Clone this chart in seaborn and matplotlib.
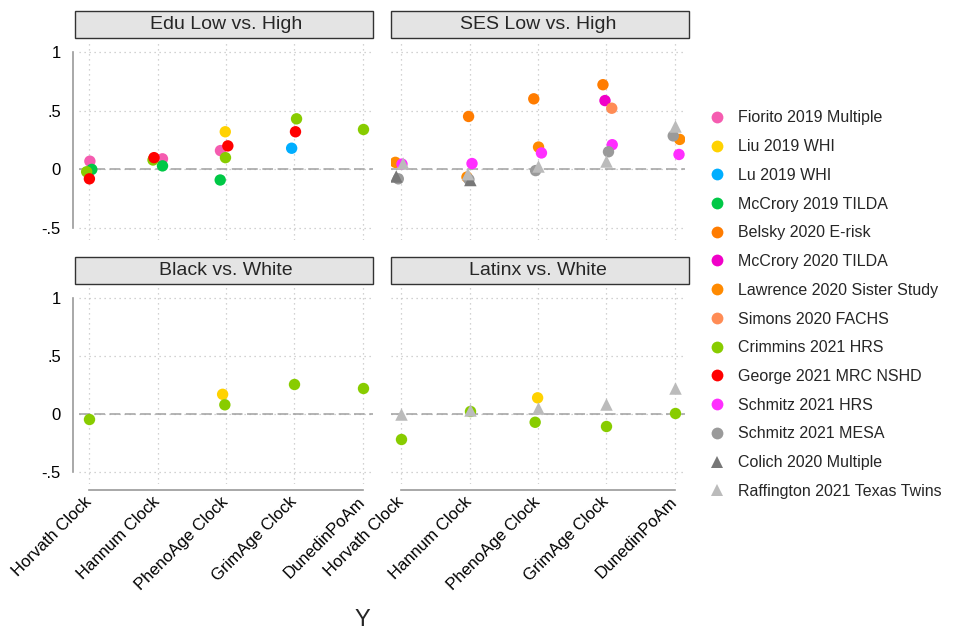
import numpy as np
import pandas as pd
import matplotlib
matplotlib.use("Agg")
import matplotlib.pyplot as plt
from matplotlib.patches import Rectangle
from matplotlib.lines import Line2D
import seaborn as sns

# clocks on the x axis
clocks = ["Horvath Clock", "Hannum Clock", "PhenoAge Clock", "GrimAge Clock", "DunedinPoAm"]

studies = [
    "Fiorito 2019 Multiple", "Liu 2019 WHI", "Lu 2019 WHI", "McCrory 2019 TILDA",
    "Belsky 2020 E-risk", "McCrory 2020 TILDA", "Lawrence 2020 Sister Study",
    "Simons 2020 FACHS", "Crimmins 2021 HRS", "George 2021 MRC NSHD",
    "Schmitz 2021 HRS", "Schmitz 2021 MESA", "Colich 2020 Multiple",
    "Raffington 2021 Texas Twins",
]
triangle_studies = ["Colich 2020 Multiple", "Raffington 2021 Texas Twins"]

study_colors = [
    "#F55CB0", "#FFD200", "#00AEFF", "#00C846", "#FF7C00", "#F000C8", "#FF8A00",
    "#FF8C55", "#88CC00", "#FF0000", "#FF2EFF", "#9A9A9A", "#777777", "#BBBBBB",
]

panels = ["Edu Low vs. High", "SES Low vs. High", "Black vs. White", "Latinx vs. White"]

# effect per clock (Horvath, Hannum, PhenoAge, GrimAge, DunedinPoAm); None = not reported
edu_vals = {
    "Fiorito 2019 Multiple": [0.07, 0.09, 0.16, None, None],
    "Liu 2019 WHI": [None, None, 0.32, None, None],
    "Lu 2019 WHI": [None, None, None, 0.18, None],
    "McCrory 2019 TILDA": [0.00, 0.03, -0.09, None, None],
    "Crimmins 2021 HRS": [-0.02, 0.08, 0.10, 0.43, 0.34],
    "George 2021 MRC NSHD": [-0.08, 0.10, 0.20, 0.32, None],
}
ses_vals = {
    "Belsky 2020 E-risk": [None, 0.45, 0.60, 0.72, None],
    "McCrory 2020 TILDA": [None, None, None, 0.585, None],
    "Lawrence 2020 Sister Study": [0.06, -0.065, 0.19, None, 0.255],
    "Simons 2020 FACHS": [None, None, None, 0.52, None],
    "Schmitz 2021 HRS": [0.045, 0.05, 0.14, 0.21, 0.127],
    "Schmitz 2021 MESA": [-0.08, -0.085, -0.01, 0.15, 0.285],
    "Colich 2020 Multiple": [-0.06, -0.09, None, None, None],
    "Raffington 2021 Texas Twins": [0.05, -0.04, 0.03, 0.07, 0.37],
}
black_vals = {
    "Liu 2019 WHI": [None, None, 0.17, None, None],
    "Crimmins 2021 HRS": [-0.04, None, 0.08, 0.26, 0.22],
}
latinx_vals = {
    "Liu 2019 WHI": [None, None, 0.14, None, None],
    "Crimmins 2021 HRS": [-0.21, 0.03, -0.07, -0.10, 0.01],
    "Raffington 2021 Texas Twins": [0.00, 0.035, 0.055, 0.085, 0.22],
}


def build_frame():
    rows = []
    for panel, vals in zip(panels, [edu_vals, ses_vals, black_vals, latinx_vals]):
        for study, effects in vals.items():
            for clock, v in zip(clocks, effects):
                if v is not None:
                    rows.append({"panel": panel, "study": study, "clock": clock, "effect": v})
    return pd.DataFrame(rows)


df = build_frame()
palette = dict(zip(studies, study_colors))

sns.set_style("white")
plt.rcParams["font.family"] = ["Liberation Sans", "DejaVu Sans"]

fig = plt.figure(figsize=(9.73, 6.32), dpi=100)
W, H = 973, 632


def px_axes(left, top, width, height):
    return fig.add_axes([left / W, 1 - (top + height) / H, width / W, height / H])


axes = [
    px_axes(79, 40, 294, 200),
    px_axes(391, 40, 294, 200),
    px_axes(79, 286, 294, 198),
    px_axes(391, 286, 294, 198),
]

np.random.seed(3)
for i, (ax, panel) in enumerate(zip(axes, panels)):
    sub = df[df["panel"] == panel]
    circ = sub[~sub["study"].isin(triangle_studies)]
    tri = sub[sub["study"].isin(triangle_studies)]
    if len(circ):
        sns.stripplot(data=circ, x="clock", y="effect", hue="study", order=clocks,
                      hue_order=studies, palette=palette, jitter=0.09, size=8.2,
                      linewidth=0, legend=False, ax=ax, zorder=4)
    if len(tri):
        sns.stripplot(data=tri, x="clock", y="effect", hue="study", order=clocks,
                      hue_order=studies, palette=palette, jitter=0.09, size=9,
                      marker="^", linewidth=0, legend=False, ax=ax, zorder=4)

    ax.set_xlim(-0.15, 4.15)
    ax.set_ylim(-0.6, 1.1)
    ax.set_yticks([-0.5, 0, 0.5, 1])
    ax.set_yticklabels(["-.5", "0", ".5", "1"])
    ax.set_xlabel("")
    ax.set_ylabel("")

    ax.grid(True, linestyle=(0, (1, 3)), color="#c4c4c4", linewidth=0.9)
    ax.axhline(0, color="#a0a0a0", linestyle=(0, (7, 3)), linewidth=1.1, zorder=2)

    for s in ["top", "right"]:
        ax.spines[s].set_visible(False)
    ax.spines["left"].set_position(("outward", 4))
    ax.spines["left"].set_bounds(-0.5, 1)
    ax.spines["bottom"].set_position(("outward", 4))
    ax.spines["bottom"].set_bounds(0, 4)
    for s in ["left", "bottom"]:
        ax.spines[s].set_color("#9a9a9a")
        ax.spines[s].set_linewidth(1.2)
    ax.tick_params(axis="both", colors="#9a9a9a", labelcolor="black", length=6,
                   width=1.2, labelsize=12, pad=3)

    if i % 2 == 1:
        ax.spines["left"].set_visible(False)
        ax.tick_params(axis="y", length=0, labelleft=False)
    if i < 2:
        ax.spines["bottom"].set_visible(False)
        ax.tick_params(axis="x", length=0, labelbottom=False)
    else:
        plt.setp(ax.get_xticklabels(), rotation=45, ha="right", va="center",
                 rotation_mode="anchor")
        ax.tick_params(axis="x", pad=1)

    # panel header strip
    x0 = -0.012 if i % 2 == 0 else 0.0
    ax.add_patch(Rectangle((x0, 1.01), 1.012, 0.135, transform=ax.transAxes,
                           facecolor="#e4e4e4", edgecolor="#333333", linewidth=1.0,
                           clip_on=False, zorder=5))
    ax.text(0.5, 1.01 + 0.0675, panel, transform=ax.transAxes, ha="center",
            va="center", fontsize=14, zorder=6)

handles = []
for study, color in zip(studies, study_colors):
    marker = "^" if study in triangle_studies else "o"
    handles.append(Line2D([], [], linestyle="", marker=marker, markersize=8.5,
                          markerfacecolor=color, markeredgewidth=0, label=study))
fig.legend(handles=handles, loc="upper left", bbox_to_anchor=(703 / W, 1 - 104 / H),
           frameon=False, fontsize=11.5, handlelength=1.0, handletextpad=0.8,
           labelspacing=0.86, borderaxespad=0)

fig.text(362 / W, 1 - 620 / H, "Y", fontsize=17, ha="center", va="center")

fig.savefig("out.png", dpi=100)
